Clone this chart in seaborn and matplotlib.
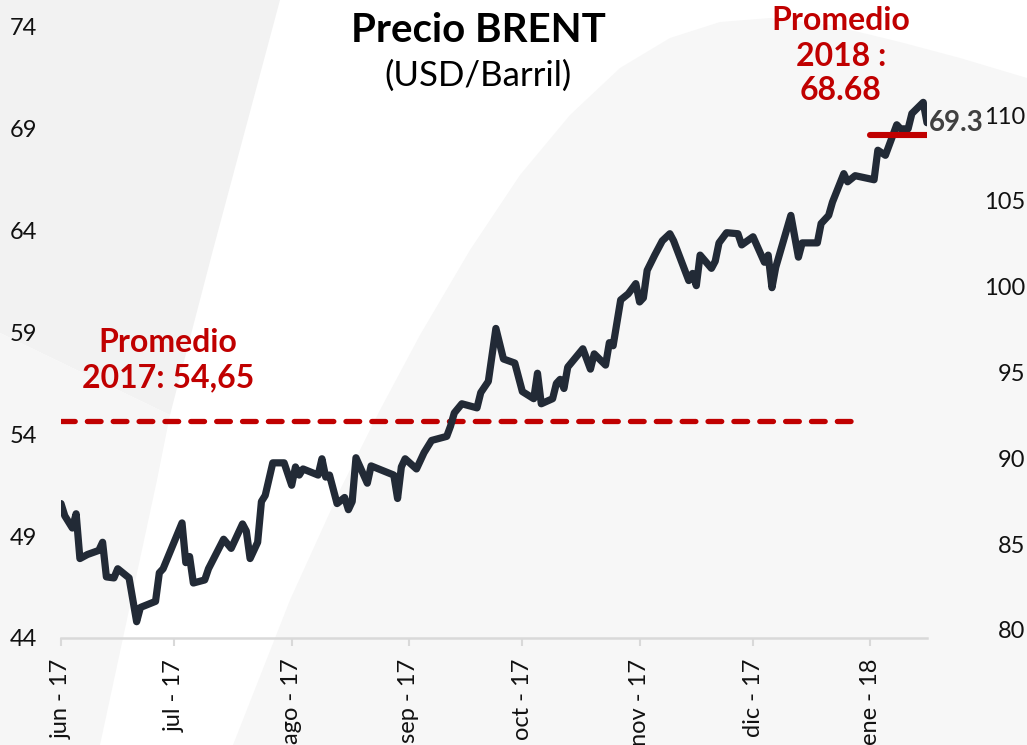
import matplotlib
matplotlib.use("Agg")
import matplotlib.pyplot as plt
from matplotlib.patches import Polygon
import seaborn as sns
import pandas as pd

# ---------------- data ----------------
dates = [
    "2017-06-01", "2017-06-02", "2017-06-04", "2017-06-05", "2017-06-06", "2017-06-08",
    "2017-06-11", "2017-06-12", "2017-06-13", "2017-06-15", "2017-06-16", "2017-06-19",
    "2017-06-21", "2017-06-22", "2017-06-26", "2017-06-27", "2017-06-28", "2017-07-03",
    "2017-07-04", "2017-07-05", "2017-07-06", "2017-07-09", "2017-07-10", "2017-07-14",
    "2017-07-16", "2017-07-19", "2017-07-20", "2017-07-21", "2017-07-23", "2017-07-24",
    "2017-07-25", "2017-07-27", "2017-07-30", "2017-08-01", "2017-08-02", "2017-08-03",
    "2017-08-04", "2017-08-08", "2017-08-09", "2017-08-10", "2017-08-11", "2017-08-13",
    "2017-08-15", "2017-08-16", "2017-08-17", "2017-08-18", "2017-08-21", "2017-08-22",
    "2017-08-24", "2017-08-28", "2017-08-29", "2017-08-30", "2017-08-31", "2017-09-03",
    "2017-09-05", "2017-09-07", "2017-09-11", "2017-09-12", "2017-09-13", "2017-09-15",
    "2017-09-19", "2017-09-20", "2017-09-22", "2017-09-24", "2017-09-26", "2017-09-29",
    "2017-10-01", "2017-10-04", "2017-10-05", "2017-10-06", "2017-10-09", "2017-10-10",
    "2017-10-11", "2017-10-12", "2017-10-13", "2017-10-17", "2017-10-19", "2017-10-20",
    "2017-10-23", "2017-10-24", "2017-10-25", "2017-10-27", "2017-10-29", "2017-10-31",
    "2017-11-01", "2017-11-02", "2017-11-03", "2017-11-05", "2017-11-07", "2017-11-09",
    "2017-11-10", "2017-11-14", "2017-11-15", "2017-11-16", "2017-11-17", "2017-11-20",
    "2017-11-21", "2017-11-22", "2017-11-24", "2017-11-27", "2017-11-28", "2017-12-01",
    "2017-12-04", "2017-12-05", "2017-12-06", "2017-12-07", "2017-12-11", "2017-12-13",
    "2017-12-14", "2017-12-18", "2017-12-19", "2017-12-21", "2017-12-22", "2017-12-25",
    "2017-12-26", "2017-12-28", "2018-01-02", "2018-01-03", "2018-01-05", "2018-01-08",
    "2018-01-09", "2018-01-11", "2018-01-12", "2018-01-15", "2018-01-16",
]
prices = [
    50.6, 50.0, 49.4, 50.1, 47.9, 48.1,
    48.3, 48.7, 47.0, 46.95, 47.4, 46.95,
    44.8, 45.5, 45.8, 47.2, 47.4, 49.65,
    47.7, 48.0, 46.7, 46.85, 47.4, 48.85,
    48.4, 49.6, 49.25, 47.9, 48.7, 50.7,
    51.0, 52.6, 52.6, 51.5, 52.4, 52.0,
    52.3, 52.0, 52.8, 51.9, 52.0, 50.6,
    50.9, 50.3, 50.7, 52.85, 51.6, 52.45,
    52.3, 52.0, 50.85, 52.4, 52.8, 52.3,
    53.1, 53.7, 53.9, 54.4, 55.05, 55.5,
    55.3, 56.05, 56.6, 59.2, 57.7, 57.5,
    56.1, 55.75, 57.0, 55.5, 55.75, 56.5,
    56.7, 56.25, 57.3, 58.2, 57.2, 57.95,
    57.4, 58.5, 58.35, 60.6, 60.9, 61.4,
    60.5, 60.7, 62.05, 62.8, 63.5, 63.85,
    63.5, 61.55, 61.9, 61.3, 62.8, 62.15,
    62.5, 63.4, 63.9, 63.85, 63.3, 63.7,
    62.45, 62.8, 61.2, 62.2, 64.75, 62.7,
    63.4, 63.4, 64.35, 64.75, 65.4, 66.8,
    66.4, 66.7, 66.5, 67.95, 67.7, 69.2,
    69.0, 69.0, 69.75, 70.3, 69.3,
]
tick_dates = ["2017-06-01", "2017-07-01", "2017-08-01", "2017-09-01",
              "2017-10-01", "2017-11-01", "2017-12-01", "2018-01-01"]
tick_labels = ["jun - 17", "jul - 17", "ago - 17", "sep - 17",
               "oct - 17", "nov - 17", "dic - 17", "ene - 18"]
left_ticks = [44, 49, 54, 59, 64, 69, 74]
right_ticks = [80, 85, 90, 95, 100, 105, 110]
avg_2017 = 54.65
avg_2017_span = ["2017-06-01", "2017-12-29"]
avg_2018 = 68.68
avg_2018_span = ["2018-01-01", "2018-01-16"]
last_label = "69.3"
x_range = ["2017-06-01", "2018-01-16"]

# ---------------- style ----------------
sns.set_theme(style="white")
plt.rcParams['font.family'] = ['Lato', 'DejaVu Sans']

W, H = 1027, 745
fig = plt.figure(figsize=(W / 100, H / 100), dpi=100)
fig.patch.set_facecolor("white")


def fp(pts):
    return [(x / W, 1 - y / H) for x, y in pts]


# decorative background shapes
fig.add_artist(Polygon(fp([(0, 0), (280, 0), (213, 250), (170, 415), (0, 333)]),
                       closed=True, transform=fig.transFigure, facecolor="#f2f2f2",
                       edgecolor="none", zorder=0))
fig.add_artist(Polygon(fp([(0, 333), (170, 415), (157, 480), (100, 745), (0, 745)]),
                       closed=True, transform=fig.transFigure, facecolor="#f6f6f6",
                       edgecolor="none", zorder=0))
fig.add_artist(Polygon(fp([(233, 745), (290, 600), (340, 490), (380, 410), (420, 335),
                           (470, 250), (520, 175), (570, 115), (620, 68), (670, 38),
                           (720, 22), (770, 18), (830, 25), (900, 42), (960, 58),
                           (1027, 78), (1027, 745)]),
                       closed=True, transform=fig.transFigure, facecolor="#f7f7f7",
                       edgecolor="none", zorder=0))

L, R, B, T = 61, 927, 638, 27
ax = fig.add_axes([L / W, 1 - B / H, (R - L) / W, (B - T) / H])
ax.patch.set_alpha(0)

df = pd.DataFrame({"date": pd.to_datetime(dates), "price": prices})
sns.lineplot(data=df, x="date", y="price", ax=ax, color="#222a36", linewidth=5.2,
             solid_joinstyle="round", solid_capstyle="round", zorder=3)

# 2017 average dashed
ax.plot(pd.to_datetime(avg_2017_span), [avg_2017, avg_2017], color="#c00000",
        linewidth=3.8, linestyle=(0, (2.6, 2.3)), dash_capstyle="round", zorder=2)
# 2018 average solid
ax.plot(pd.to_datetime(avg_2018_span), [avg_2018, avg_2018], color="#c00000",
        linewidth=4.4, solid_capstyle="round", zorder=4)

ax.set_xlim(pd.to_datetime(x_range[0]), pd.to_datetime(x_range[1]))
ax.set_ylim(44, 74)
ax.set_xlabel("")
ax.set_ylabel("")
ax.set_yticks(left_ticks)
ax.set_yticklabels([str(v) for v in left_ticks])
ax.set_xticks(pd.to_datetime(tick_dates))
ax.set_xticklabels(tick_labels, rotation=90)
ax.tick_params(axis="y", length=0, pad=17, labelsize=17, labelcolor="#111111")
ax.tick_params(axis="x", bottom=True, length=6, width=1.5, color="#d9d9d9",
               pad=9, labelsize=17, labelcolor="#111111")
for s in ["left", "right", "top"]:
    ax.spines[s].set_visible(False)
ax.spines["bottom"].set_color("#d9d9d9")
ax.spines["bottom"].set_linewidth(1.8)

ax2 = ax.twinx()
ax2.set_ylim(79.53, 115.13)
ax2.set_yticks(right_ticks)
ax2.set_yticklabels([str(v) for v in right_ticks])
ax2.tick_params(axis="y", length=0, pad=71, labelsize=17, labelcolor="#111111")
for lab in ax2.get_yticklabels():
    lab.set_horizontalalignment("right")
for s in ax2.spines.values():
    s.set_visible(False)
ax2.grid(False)
ax.grid(False)

# texts
fig.text(478 / W, 1 - 30 / H, "Precio BRENT", ha="center", va="center",
         fontsize=29, fontweight="bold", color="#000000")
fig.text(478 / W, 1 - 76 / H, "(USD/Barril)", ha="center", va="center",
         fontsize=25, color="#000000")
fig.text(168 / W, 1 - 360 / H, "Promedio\n2017: 54,65", ha="center", va="center",
         fontsize=23, fontweight="bold", color="#c00000", linespacing=1.25)
fig.text(841 / W, 1 - 56 / H, "Promedio\n2018 :\n" + f"{avg_2018:.2f}", ha="center",
         va="center", fontsize=23, fontweight="bold", color="#c00000", linespacing=1.25)
ax.annotate(last_label, xy=(pd.to_datetime(dates[-1]), prices[-1]), xytext=(1, 0),
            textcoords="offset points", ha="left", va="center", fontsize=20,
            fontweight="bold", color="#404040", zorder=5)

fig.savefig("out.png", dpi=100, facecolor=fig.get_facecolor())
